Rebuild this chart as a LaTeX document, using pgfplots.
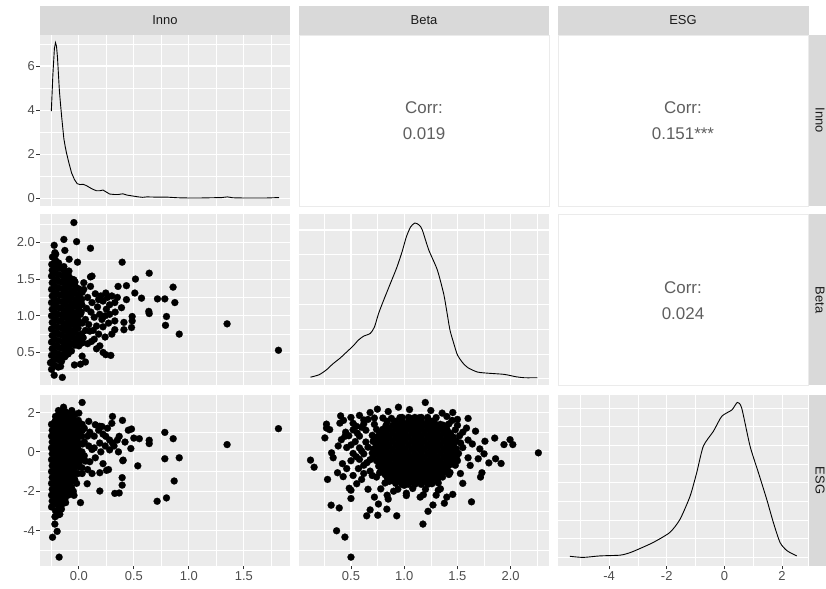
\documentclass[border=0pt]{standalone}
\usepackage{fontspec}
\setmainfont{Liberation Sans}
\usepackage{pgfplots}
\pgfplotsset{compat=1.18}
\definecolor{panelbg}{HTML}{EBEBEB}
\definecolor{stripbg}{HTML}{D9D9D9}
\definecolor{striptxt}{HTML}{1A1A1A}
\definecolor{ticktxt}{HTML}{4D4D4D}
\definecolor{tickcol}{HTML}{333333}
\definecolor{corrtxt}{HTML}{5F5F5F}
\pgfplotsset{gg/.style={
  scale only axis, width=250bp, height=171bp, anchor=south west,
  axis background/.style={fill=panelbg},
  axis line style={draw=none},
  grid=both,
  major grid style={white, line width=1.1bp},
  minor grid style={white, line width=0.55bp},
  tick align=outside, tick pos=left,
  major tick length=3.5bp, minor tick length=0bp,
  every tick/.style={tickcol, line width=0.8bp},
  ticklabel style={font=\fontsize{13}{15}\selectfont, text=ticktxt},
  xticklabel style={inner sep=1.5bp},
  yticklabel style={inner sep=1.5bp},
},
pts/.style={only marks, mark=*, mark size=3.5bp, mark options={fill=black, draw=black, line width=0.2bp}},
dens/.style={black, line width=0.9bp, no marks},
inno x/.style={xmin=-0.353, xmax=1.92, xtick={0,0.5,1,1.5}, minor xtick={-0.25,0.25,0.75,1.25,1.75}},
beta x/.style={xmin=0.012, xmax=2.36, xtick={0.5,1,1.5,2}, minor xtick={0.25,0.75,1.25,1.75,2.25}},
esg x/.style={xmin=-5.77, xmax=2.9, xtick={-4,-2,0,2}, minor xtick={-5,-3,-1,1}},
beta y/.style={ymin=0.05, ymax=2.38, ytick={0.5,1,1.5,2}, minor ytick={0.25,0.75,1.25,1.75,2.25}},
esg y/.style={ymin=-5.8, ymax=2.89, ytick={-4,-2,0,2}, minor ytick={-5,-3,-1,1}},
nox/.style={xticklabels={}, xtick style={draw=none}},
noy/.style={yticklabels={}, ytick style={draw=none}},
}
\begin{document}
\begin{tikzpicture}[x=1bp,y=1bp]
\useasboundingbox (0,0) rectangle (826,589);
% ---------- row 1, col 1: Inno density
\begin{axis}[gg, at={(40bp,383bp)}, inno x, nox,
  ymin=-0.353, ymax=7.41, ytick={0,2,4,6}, minor ytick={1,3,5,7}, yticklabels={0,2,4,6}]
\addplot[dens] coordinates {(-0.25,3.95) (-0.236,5.6) (-0.222,6.8) (-0.212,7.06) (-0.203,6.9) (-0.194,6.4) (-0.185,5.6) (-0.177,4.9) (-0.167,4.3) (-0.157,3.75) (-0.146,3.2) (-0.136,2.7) (-0.124,2.35) (-0.112,2.05) (-0.09,1.6) (-0.066,1.15) (-0.04,0.85) (-0.015,0.66) (0.01,0.62) (0.04,0.63) (0.07,0.57) (0.1,0.48) (0.13,0.4) (0.16,0.34) (0.19,0.34) (0.22,0.37) (0.25,0.28) (0.28,0.19) (0.32,0.17) (0.36,0.17) (0.40,0.2) (0.44,0.14) (0.49,0.1) (0.54,0.06) (0.58,0.04) (0.62,0.06) (0.7,0.05) (0.8,0.05) (0.9,0.02) (1.0,0.01) (1.1,0.01) (1.2,0.02) (1.3,0.03) (1.35,0.06) (1.4,0.02) (1.5,0.01) (1.6,0.01) (1.7,0.01) (1.82,0.03)};
\end{axis}
% ---------- row 2, col 1: Inno vs Beta
\begin{axis}[gg, at={(40bp,203.5bp)}, inno x, nox, beta y, yticklabels={0.5,1.0,1.5,2.0}]
\addplot[pts] coordinates {
(-0.045,2.27) (-0.224,1.96) (-0.136,2.04) (-0.02,2.01) (-0.127,1.89) (-0.218,1.86) (0.106,1.92) (-0.012,1.73) (-0.088,1.77) (0.394,1.73) (0.64,1.58) (0.515,1.50) (0.433,1.41) (0.357,1.40) (0.857,1.39) (0.12,1.54) (0.106,1.53) (0.509,1.31) (0.57,1.24) (0.715,1.23) (0.782,1.23) (0.873,1.18) (0.433,1.22) (0.388,1.11) (0.327,1.18) (0.636,1.06) (0.64,1.03) (0.797,0.99) (0.485,0.99) (0.485,0.93) (0.41,0.91) (0.327,0.93) (0.327,0.81) (0.41,0.81) (0.479,0.84) (0.788,0.87) (1.348,0.89) (0.913,0.75) (1.815,0.53) (0.239,0.71) (0.191,0.59) (0.221,0.50) (0.291,0.46) (0.245,0.47) (0.161,0.55) (0.115,0.65) (0.1,0.79) (0.161,0.86) (0.19,1.02) (0.25,1.09) (0.2,1.27) (0.245,1.31) (0.03,0.45) (0.06,0.37) (-0.04,0.33) (0.015,0.34) (-0.224,0.19) (-0.15,0.16) (-0.166,0.31) (-0.258,0.36) (0.0,0.59) (0.03,0.63) (-0.015,0.88) (0.015,1.02) (0.015,1.24) (0.045,1.45) (0.106,1.40) (0.045,1.36) (-0.045,1.49) (-0.09,1.61) (-0.136,1.67) (-0.21,1.74)
(0.08,1.25) (0.12,1.18) (0.15,1.30) (0.18,1.22) (0.22,1.20) (0.26,1.25) (0.28,1.15) (0.07,1.10) (0.11,1.05) (0.14,0.98) (0.17,1.12) (0.21,0.95) (0.24,1.0) (0.28,1.02) (0.06,0.95) (0.09,0.88) (0.13,0.80) (0.18,0.75) (0.22,0.85) (0.06,0.8) (0.04,0.7) (0.27,0.9) (0.30,1.27) (0.33,1.05) (0.35,1.25) (0.30,0.75) (0.14,0.68) (0.08,0.62)
(-0.248,0.27) (-0.242,0.37) (-0.248,0.46) (-0.242,0.55) (-0.248,0.64) (-0.242,0.73) (-0.248,0.82) (-0.242,0.91) (-0.248,1.00) (-0.242,1.09) (-0.248,1.18) (-0.242,1.27) (-0.248,1.36) (-0.242,1.45) (-0.248,1.54) (-0.242,1.62) (-0.246,1.70) (-0.240,1.80)
(-0.217,0.32) (-0.212,0.41) (-0.217,0.50) (-0.212,0.59) (-0.217,0.68) (-0.212,0.77) (-0.217,0.86) (-0.212,0.95) (-0.217,1.04) (-0.212,1.13) (-0.217,1.22) (-0.212,1.31) (-0.217,1.40) (-0.212,1.49) (-0.217,1.58) (-0.212,1.66) (-0.214,1.76) (-0.210,1.84)
(-0.187,0.30) (-0.182,0.40) (-0.187,0.48) (-0.182,0.57) (-0.187,0.66) (-0.182,0.75) (-0.187,0.84) (-0.182,0.93) (-0.187,1.02) (-0.182,1.11) (-0.187,1.20) (-0.182,1.29) (-0.187,1.38) (-0.182,1.47) (-0.187,1.56) (-0.182,1.65) (-0.184,1.72)
(-0.157,0.38) (-0.152,0.47) (-0.157,0.56) (-0.152,0.65) (-0.157,0.74) (-0.152,0.83) (-0.157,0.92) (-0.152,1.01) (-0.157,1.10) (-0.152,1.19) (-0.157,1.28) (-0.152,1.37) (-0.157,1.46) (-0.152,1.55) (-0.156,1.64)
(-0.127,0.44) (-0.122,0.53) (-0.127,0.62) (-0.122,0.71) (-0.127,0.80) (-0.122,0.89) (-0.127,0.98) (-0.122,1.07) (-0.127,1.16) (-0.122,1.25) (-0.127,1.34) (-0.122,1.43) (-0.127,1.52) (-0.124,1.60)
(-0.097,0.48) (-0.092,0.58) (-0.097,0.67) (-0.092,0.76) (-0.097,0.85) (-0.092,0.94) (-0.097,1.03) (-0.092,1.12) (-0.097,1.21) (-0.092,1.30) (-0.097,1.39) (-0.092,1.48) (-0.095,1.55)
(-0.067,0.52) (-0.062,0.62) (-0.067,0.71) (-0.062,0.80) (-0.067,0.89) (-0.062,0.98) (-0.067,1.07) (-0.062,1.16) (-0.067,1.25) (-0.062,1.34) (-0.067,1.43) (-0.064,1.50)
(-0.037,0.60) (-0.032,0.68) (-0.037,0.77) (-0.032,0.86) (-0.037,0.95) (-0.032,1.04) (-0.037,1.13) (-0.032,1.22) (-0.037,1.31) (-0.032,1.40) (-0.034,1.46)
(-0.007,0.66) (-0.002,0.74) (-0.007,0.83) (-0.002,0.93) (-0.007,1.01) (-0.002,1.10) (-0.007,1.19) (-0.002,1.28) (-0.005,1.37)
(0.025,0.75) (0.03,0.90) (0.022,1.05) (0.028,1.15) (0.025,1.22) (0.03,1.32)
};
\end{axis}
% ---------- row 3, col 1: Inno vs ESG
\begin{axis}[gg, at={(40bp,23bp)}, inno x, xticklabels={0.0,0.5,1.0,1.5}, esg y, yticklabels={-4,-2,0,2}]
\addplot[pts] coordinates {
(0.03,2.51) (-0.139,2.27) (0.306,1.80) (0.397,1.60) (1.815,1.18) (0.479,1.16) (0.782,0.99) (0.858,0.67) (0.55,0.67) (0.64,0.59) (0.64,0.42) (1.348,0.37) (0.473,0.17) (0.782,-0.35) (0.913,-0.30) (0.403,-0.42) (0.536,-0.71) (0.252,-0.94) (0.191,-1.06) (0.394,-1.31) (0.076,-1.62) (0.394,-1.69) (0.867,-1.48) (0.191,-1.99) (0.327,-2.11) (0.367,-2.09) (0.712,-2.51) (0.797,-2.34) (-0.044,-2.21) (0.015,-2.58) (-0.12,-2.58) (-0.239,-4.34) (-0.197,-4.04) (-0.218,-3.67) (-0.179,-5.35) (-0.197,-3.05) (-0.173,-3.17) (-0.158,-2.91) (-0.05,-0.89) (0.0,-0.56) (0.06,-0.47) (0.12,0.12) (0.19,0.45) (0.21,1.29) (0.15,1.38) (0.09,1.55) (0.0,1.97) (0.367,0.79) (0.306,0.45) (0.245,0.79)
(0.05,1.2) (0.1,1.0) (0.14,0.8) (0.18,1.1) (0.22,0.9) (0.26,1.2) (0.28,0.6) (0.05,0.5) (0.09,0.3) (0.14,0.2) (0.2,0.0) (0.24,0.3) (0.28,0.1) (0.32,0.3) (0.35,0.6) (0.05,-0.2) (0.1,-0.5) (0.15,-0.3) (0.22,-0.6) (0.27,-0.9) (0.08,-0.9) (0.12,-1.1) (0.36,0.0) (0.42,0.5) (0.45,1.1) (0.5,0.7) (0.4,-0.45) (0.3,1.45) (0.19,1.3) (0.08,0.8) (0.03,-1.1) (-0.02,-1.6) (-0.05,-2.0)
(-0.248,-2.8) (-0.242,-2.5) (-0.248,-2.2) (-0.242,-1.9) (-0.248,-1.6) (-0.242,-1.3) (-0.248,-1.0) (-0.242,-0.7) (-0.248,-0.4) (-0.242,-0.1) (-0.248,0.2) (-0.242,0.5) (-0.248,0.8) (-0.242,1.1) (-0.248,1.4)
(-0.217,-3.3) (-0.212,-3.0) (-0.217,-2.65) (-0.212,-2.35) (-0.217,-2.05) (-0.212,-1.75) (-0.217,-1.45) (-0.212,-1.15) (-0.217,-0.85) (-0.212,-0.55) (-0.217,-0.25) (-0.212,0.05) (-0.217,0.35) (-0.212,0.65) (-0.217,0.95) (-0.212,1.25) (-0.217,1.55) (-0.212,1.8)
(-0.187,-3.2) (-0.182,-2.9) (-0.187,-2.6) (-0.182,-2.3) (-0.187,-2.0) (-0.182,-1.7) (-0.187,-1.4) (-0.182,-1.1) (-0.187,-0.8) (-0.182,-0.5) (-0.187,-0.2) (-0.182,0.1) (-0.187,0.4) (-0.182,0.7) (-0.187,1.0) (-0.182,1.3) (-0.187,1.6) (-0.182,1.9) (-0.185,2.1)
(-0.157,-2.7) (-0.152,-2.45) (-0.157,-2.15) (-0.152,-1.85) (-0.157,-1.55) (-0.152,-1.25) (-0.157,-0.95) (-0.152,-0.65) (-0.157,-0.35) (-0.152,-0.05) (-0.157,0.25) (-0.152,0.55) (-0.157,0.85) (-0.152,1.15) (-0.157,1.45) (-0.152,1.75) (-0.155,2.0)
(-0.127,-2.4) (-0.122,-2.1) (-0.127,-1.8) (-0.122,-1.5) (-0.127,-1.2) (-0.122,-0.9) (-0.127,-0.6) (-0.122,-0.3) (-0.127,0.0) (-0.122,0.3) (-0.127,0.6) (-0.122,0.9) (-0.127,1.2) (-0.122,1.5) (-0.127,1.8) (-0.124,2.05)
(-0.097,-2.2) (-0.092,-1.95) (-0.097,-1.65) (-0.092,-1.35) (-0.097,-1.05) (-0.092,-0.75) (-0.097,-0.45) (-0.092,-0.15) (-0.097,0.15) (-0.092,0.45) (-0.097,0.75) (-0.092,1.05) (-0.097,1.35) (-0.092,1.65) (-0.095,1.95)
(-0.067,-1.8) (-0.062,-1.5) (-0.067,-1.2) (-0.062,-0.9) (-0.067,-0.6) (-0.062,-0.3) (-0.067,0.0) (-0.062,0.3) (-0.067,0.6) (-0.062,0.9) (-0.067,1.2) (-0.062,1.5) (-0.067,1.8) (-0.064,2.1)
(-0.037,-1.4) (-0.032,-1.1) (-0.037,-0.8) (-0.032,-0.5) (-0.037,-0.2) (-0.032,0.1) (-0.037,0.4) (-0.032,0.7) (-0.037,1.0) (-0.032,1.3) (-0.037,1.6) (-0.034,1.9)
(-0.007,-1.1) (-0.002,-0.75) (-0.007,-0.45) (-0.002,-0.15) (-0.007,0.15) (-0.002,0.45) (-0.007,0.75) (-0.002,1.05) (-0.007,1.35) (-0.004,1.6)
(0.028,-0.8) (0.033,-0.4) (0.028,0.0) (0.033,0.4) (0.028,0.8) (0.033,1.1) (0.03,1.4)
};
\end{axis}
% ---------- row 2, col 2: Beta density
\begin{axis}[gg, at={(299bp,203.5bp)}, beta x, nox, noy,
  ymin=-0.068, ymax=1.656, ytick={0,0.5,1,1.5}, minor ytick={0.25,0.75,1.25}]
\addplot[dens, smooth, tension=0.4] coordinates {(0.12,0.016) (0.2,0.04) (0.27,0.09) (0.33,0.15) (0.40,0.21) (0.46,0.27) (0.52,0.33) (0.57,0.39) (0.62,0.43) (0.68,0.456) (0.72,0.52) (0.76,0.66) (0.81,0.80) (0.87,0.96) (0.93,1.12) (0.98,1.28) (1.02,1.43) (1.06,1.53) (1.10,1.57) (1.14,1.55) (1.17,1.50) (1.23,1.30) (1.31,1.10) (1.37,0.86) (1.40,0.68) (1.43,0.49) (1.47,0.34) (1.50,0.24) (1.55,0.16) (1.6,0.11) (1.69,0.067) (1.8,0.055) (1.94,0.044) (2.05,0.02) (2.13,0.01) (2.25,0.01)};
\end{axis}
% ---------- row 3, col 2: Beta vs ESG
\begin{axis}[gg, at={(299bp,23bp)}, beta x, xticklabels={0.5,1.0,1.5,2.0}, esg y, noy]
\addplot[pts] coordinates {
(0.12,-0.42) (0.154,-0.78) (0.28,-1.40) (0.314,-2.71) (0.39,-2.85) (0.365,-4.01) (0.443,-4.33) (0.5,-5.35) (0.5,-2.37) (0.648,-3.25) (0.68,-2.95) (0.752,-3.22) (0.758,-2.65) (0.837,-2.91) (0.93,-3.25) (1.176,-3.67) (1.224,-3.02) (1.27,-2.70) (1.377,-2.61) (1.456,-2.16) (1.632,-2.54) (1.198,2.51) (0.946,2.27) (0.748,2.17) (1.456,2.0) (1.356,1.97) (0.403,1.83) (0.27,1.41) (0.255,0.71) (1.585,1.21) (1.758,0.54) (1.64,0.40) (1.71,0.15) (1.937,0.37) (1.994,0.62) (2.02,0.37) (2.26,-0.05) (1.795,-0.56) (1.858,-0.35) (1.91,-0.59) (1.695,-0.35) (1.62,-0.69) (1.73,-1.06) (1.717,-1.28) (1.528,-1.10) (1.45,-0.39) (1.497,-0.14) (0.318,-0.05) (0.333,-0.30) (0.374,-1.06) (0.427,-1.26) (0.484,-1.85) (0.5,-1.95) (0.554,-1.62) (0.27,1.21) (0.30,1.13) (0.396,1.46) (0.41,0.62) (0.443,0.79)
(0.43,1.6) (0.5,1.75) (0.58,1.85) (0.62,1.62) (0.55,1.3) (0.45,1.0) (0.38,0.3) (0.42,-0.6) (0.46,-0.85) (0.52,-1.2) (0.6,-1.4) (0.66,-1.9) (0.72,-2.3) (0.85,-2.4) (0.9,-2.0) (1.02,-2.1) (1.15,-2.3) (1.32,-1.95) (1.4,-2.3) (1.55,-1.6) (1.6,-0.3) (1.6,0.6) (1.55,1.0) (1.6,1.7) (1.5,1.65) (1.25,2.1) (1.05,2.15) (0.85,2.05) (0.68,2.0) (1.4,1.8) (1.75,-0.1) (1.85,0.7) (1.67,1.05)
(0.48,0.82) (0.52,1.12) (0.54,0.52) (0.46,0.22) (0.52,-0.08) (0.58,-0.38) (0.62,-0.68) (0.68,-0.98) (0.74,-1.28) (0.58,0.80) (0.64,1.10) (0.62,1.42) (0.64,0.50) (0.58,0.20) (0.62,-0.10) (0.68,-0.40) (0.70,0.84) (0.72,1.40) (0.74,1.14) (0.71,0.53) (0.66,0.24) (0.70,-0.06) (0.76,-0.72) (0.78,-1.00) (0.74,0.21) (0.56,0.95) (0.60,1.25) (0.66,1.65) (0.72,1.72) (0.55,-0.25) (0.65,-0.55) (0.70,-1.2) (0.80,1.72) (0.84,1.55) (0.88,1.70) (0.82,-1.15) (0.84,-1.30) (0.86,-1.5) (0.92,-1.60) (0.82,-1.58) (0.78,-1.88) (0.94,-1.90) (1.00,-1.70) (1.08,-1.86) (1.20,-1.90) (1.26,-1.62) (1.34,-1.88) (1.32,-1.58) (1.24,-1.5) (0.84,-2.20) (1.02,-2.22) (1.18,-2.18) (1.30,-2.20) (0.96,1.74) (1.06,1.70) (1.14,1.73) (1.22,1.70) (1.30,1.74) (1.26,1.55) (1.34,1.40) (1.42,1.42) (1.40,1.10) (1.48,1.12) (1.44,0.84) (1.52,0.82) (1.48,0.52) (1.47,0.20) (1.55,0.22) (1.51,-0.08) (1.46,-0.10) (1.44,-0.38) (1.48,-0.68) (1.41,-0.98) (1.36,-1.28) (1.42,-1.15) (1.50,-0.45) (1.53,0.45) (1.50,1.35) (1.45,1.6) (0.5,0.35) (0.5,-0.45) (0.57,-0.85) (0.6,0.05) (0.52,1.45) (0.62,-1.1)
(1.04,1.55) (1.10,1.55) (1.16,1.55)
(0.95,1.35) (1.01,1.35) (1.07,1.35) (1.13,1.35) (1.19,1.35) (1.25,1.35)
(0.86,1.15) (0.92,1.15) (0.98,1.15) (1.04,1.15) (1.10,1.15) (1.16,1.15) (1.22,1.15) (1.28,1.15) (1.34,1.15)
(0.83,0.95) (0.89,0.95) (0.95,0.95) (1.01,0.95) (1.07,0.95) (1.13,0.95) (1.19,0.95) (1.25,0.95) (1.31,0.95) (1.37,0.95)
(0.80,0.75) (0.86,0.75) (0.92,0.75) (0.98,0.75) (1.04,0.75) (1.10,0.75) (1.16,0.75) (1.22,0.75) (1.28,0.75) (1.34,0.75) (1.40,0.75)
(0.77,0.55) (0.83,0.55) (0.89,0.55) (0.95,0.55) (1.01,0.55) (1.07,0.55) (1.13,0.55) (1.19,0.55) (1.25,0.55) (1.31,0.55) (1.37,0.55) (1.43,0.55)
(0.80,0.35) (0.86,0.35) (0.92,0.35) (0.98,0.35) (1.04,0.35) (1.10,0.35) (1.16,0.35) (1.22,0.35) (1.28,0.35) (1.34,0.35) (1.40,0.35)
(0.77,0.15) (0.83,0.15) (0.89,0.15) (0.95,0.15) (1.01,0.15) (1.07,0.15) (1.13,0.15) (1.19,0.15) (1.25,0.15) (1.31,0.15) (1.37,0.15) (1.43,0.15)
(0.80,-0.05) (0.86,-0.05) (0.92,-0.05) (0.98,-0.05) (1.04,-0.05) (1.10,-0.05) (1.16,-0.05) (1.22,-0.05) (1.28,-0.05) (1.34,-0.05) (1.40,-0.05)
(0.77,-0.25) (0.83,-0.25) (0.89,-0.25) (0.95,-0.25) (1.01,-0.25) (1.07,-0.25) (1.13,-0.25) (1.19,-0.25) (1.25,-0.25) (1.31,-0.25) (1.37,-0.25) (1.43,-0.25)
(0.80,-0.45) (0.86,-0.45) (0.92,-0.45) (0.98,-0.45) (1.04,-0.45) (1.10,-0.45) (1.16,-0.45) (1.22,-0.45) (1.28,-0.45) (1.34,-0.45) (1.40,-0.45)
(0.83,-0.65) (0.89,-0.65) (0.95,-0.65) (1.01,-0.65) (1.07,-0.65) (1.13,-0.65) (1.19,-0.65) (1.25,-0.65) (1.31,-0.65) (1.37,-0.65)
(0.86,-0.85) (0.92,-0.85) (0.98,-0.85) (1.04,-0.85) (1.10,-0.85) (1.16,-0.85) (1.22,-0.85) (1.28,-0.85) (1.34,-0.85)
(0.89,-1.05) (0.95,-1.05) (1.01,-1.05) (1.07,-1.05) (1.13,-1.05) (1.19,-1.05) (1.25,-1.05) (1.31,-1.05)
(0.92,-1.25) (0.98,-1.25) (1.04,-1.25) (1.10,-1.25) (1.16,-1.25) (1.22,-1.25) (1.28,-1.25)
(1.01,-1.45) (1.07,-1.45) (1.13,-1.45) (1.19,-1.45)
(0.98,1.75) (1.04,1.75) (1.10,1.75) (1.16,1.75) (1.22,1.75)
(0.92,1.55) (0.98,1.55) (1.22,1.55) (1.28,1.55)
(0.83,1.35) (0.89,1.35) (1.31,1.35) (1.37,1.35)
(0.80,1.15) (1.40,1.15) (0.77,0.95) (1.43,0.95) (0.74,0.75) (1.46,0.75) (0.71,0.55) (1.49,0.55)
(0.74,0.35) (1.46,0.35) (0.71,0.15) (1.49,0.15) (0.74,-0.05) (1.46,-0.05) (0.71,-0.25) (1.49,-0.25)
(0.74,-0.45) (1.46,-0.45) (0.77,-0.65) (1.43,-0.65) (0.80,-0.85) (1.40,-0.85)
(0.77,-1.05) (0.83,-1.05) (1.37,-1.05) (1.43,-1.05) (0.86,-1.25) (1.34,-1.25)
(0.89,-1.45) (0.95,-1.45) (1.25,-1.45) (1.31,-1.45)
(0.98,-1.65) (1.04,-1.65) (1.10,-1.65) (1.16,-1.65) (1.22,-1.65)
};
\end{axis}
% ---------- row 3, col 3: ESG density
\begin{axis}[gg, at={(558bp,23bp)}, esg x, xticklabels={-4,-2,0,2}, noy,
  ymin=-0.023, ymax=0.435, ytick={0,0.1,0.2,0.3,0.4}, minor ytick={0.05,0.15,0.25,0.35}]
\addplot[dens, smooth, tension=0.4] coordinates {(-5.36,0.003) (-4.9,0.0) (-4.32,0.004) (-3.62,0.006) (-3.3,0.012) (-3.04,0.02) (-2.47,0.04) (-1.89,0.067) (-1.54,0.102) (-1.19,0.164) (-0.96,0.227) (-0.73,0.298) (-0.38,0.338) (-0.09,0.378) (0.26,0.395) (0.45,0.415) (0.60,0.40) (0.89,0.298) (1.18,0.227) (1.47,0.155) (1.70,0.093) (1.93,0.04) (2.17,0.018) (2.51,0.004)};
\end{axis}
% ---------- upper panels (correlations)
\draw[panelbg, line width=0.8bp, fill=white] (299,383) rectangle (549,554);
\draw[panelbg, line width=0.8bp, fill=white] (558,383) rectangle (808.5,554);
\draw[panelbg, line width=0.8bp, fill=white] (558,203.5) rectangle (808.5,374.5);
\node[text=corrtxt, font=\fontsize{17}{26}\selectfont, align=center] at (424,468) {Corr:\\0.019};
\node[text=corrtxt, font=\fontsize{17}{26}\selectfont, align=center] at (683,468) {Corr:\\0.151***};
\node[text=corrtxt, font=\fontsize{17}{26}\selectfont, align=center] at (683,288.5) {Corr:\\0.024};
% ---------- strips
\fill[stripbg] (40,554) rectangle (290,583.3);
\fill[stripbg] (299,554) rectangle (549,583.3);
\fill[stripbg] (558,554) rectangle (808.5,583.3);
\node[text=striptxt, font=\fontsize{13}{15}\selectfont] at (165,568.7) {Inno};
\node[text=striptxt, font=\fontsize{13}{15}\selectfont] at (424,568.7) {Beta};
\node[text=striptxt, font=\fontsize{13}{15}\selectfont] at (683,568.7) {ESG};
\fill[stripbg] (808.7,383) rectangle (826,554);
\fill[stripbg] (808.7,203.5) rectangle (826,374.5);
\fill[stripbg] (808.7,23) rectangle (826,194);
\node[text=striptxt, font=\fontsize{13}{15}\selectfont, rotate=-90] at (820,468.5) {Inno};
\node[text=striptxt, font=\fontsize{13}{15}\selectfont, rotate=-90] at (820,289) {Beta};
\node[text=striptxt, font=\fontsize{13}{15}\selectfont, rotate=-90] at (820,108.5) {ESG};
\end{tikzpicture}
\end{document}
